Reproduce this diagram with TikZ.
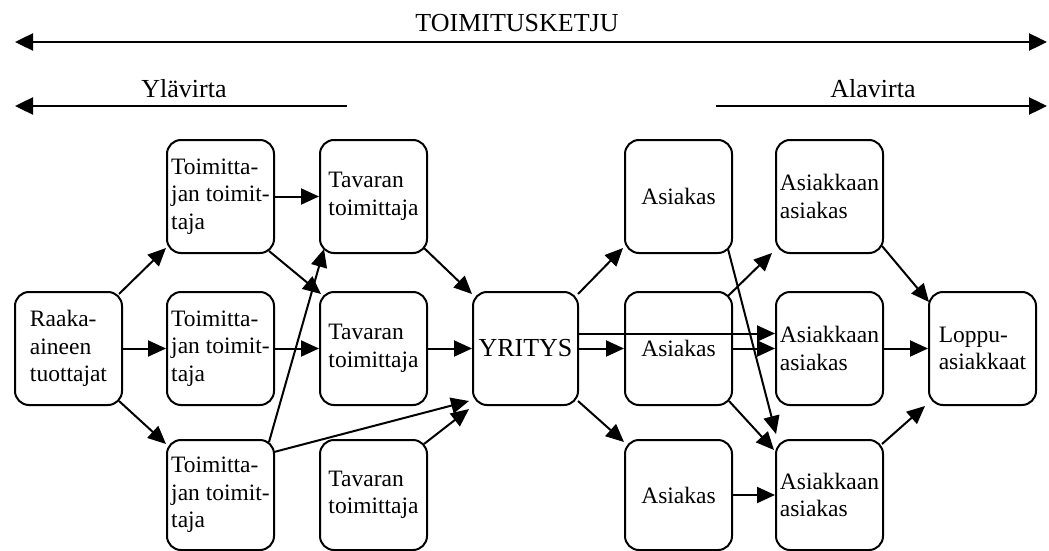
\documentclass[tikz,border=0pt]{standalone}
\usepackage{fontspec}
\setmainfont{Liberation Serif}
\usetikzlibrary{arrows.meta,calc}
\begin{document}
\begin{tikzpicture}[x=1pt,y=-1pt,
  box/.style={draw, line width=2pt, rounded corners=14pt, minimum width=107pt, minimum height=113pt, inner sep=0pt, align=left, font=\fontsize{23.5}{27.5}\selectfont},
  lowbox/.style={box, minimum height=110pt},
  arr/.style={line width=2pt, -{Triangle[length=18pt,width=16pt]}},
  spanarr/.style={line width=2.4pt, -{Triangle[length=18pt,width=17pt]}},
  lbl/.style={font=\fontsize{26}{30}\selectfont, inner sep=0pt, anchor=base}
]
\useasboundingbox (0,0) rectangle (1049,551);

% top labels and spans
\node[lbl] (title) at (517,32) {TOIMITUSKETJU};
\node[lbl] (up) at (184,97) {Ylävirta};
\node[lbl] (down) at (873,97) {Alavirta};
\coordinate (k1) at (15,42);
\coordinate (k2) at (1047,42);
\coordinate (k0) at (531,42);
\coordinate (u1) at (15,106);
\coordinate (u2) at (347,106);
\coordinate (d1) at (716,106);
\coordinate (d2) at (1047,106);
\draw[spanarr] (k0) -- (k1);
\draw[spanarr] (k0) -- (k2);
\draw[spanarr] (u2) -- (u1);
\draw[spanarr] (d1) -- (d2);

% boxes
\node[box] (A) at (68.5,348.5) {Raaka-\\aineen\\tuottajat};
\node[box] (B1) at (220.5,196.5) {Toimitta-\\jan toimit-\\taja};
\node[box] (B2) at (220.5,348.5) {Toimitta-\\jan toimit-\\taja};
\node[lowbox] (B3) at (220.5,495) {Toimitta-\\jan toimit-\\taja};
\node[box] (C1) at (373.5,196.5) {Tavaran\\toimittaja};
\node[box] (C2) at (373.5,348.5) {Tavaran\\toimittaja};
\node[lowbox] (C3) at (373.5,495) {Tavaran\\toimittaja};
\node[box, minimum width=105pt, font=\fontsize{26}{30}\selectfont] (D) at (525.5,348.5) {YRITYS};
\node[box] (E1) at (678.5,196.5) {Asiakas};
\node[box] (E2) at (678.5,348.5) {Asiakas};
\node[lowbox] (E3) at (678.5,495) {Asiakas};
\node[box] (F1) at (829.5,196.5) {Asiakkaan\\asiakas};
\node[box] (F2) at (829.5,348.5) {Asiakkaan\\asiakas};
\node[lowbox] (F3) at (829.5,495) {Asiakkaan\\asiakas};
\node[box] (G) at (982.5,348.5) {Loppu-\\asiakkaat};

% connectors, left half
\draw[arr] ($(A.north east)+(-4,3)$) -- ($(B1.south west)+(0,-6)$);
\draw[arr] (A.east) -- (B2.west);
\draw[arr] ($(A.south east)+(-4,-5)$) -- ($(B3.north west)+(0,5)$);
\draw[arr] (B1.east) -- (C1.west);
\draw[arr] ($(B1.south east)+(-6,-3)$) -- ($(C2.north west)+(2,3)$);
\draw[arr] (B2.east) -- (C2.west);
\draw[arr] ($(B3.north east)+(-6,3)$) -- ($(C1.south west)+(5,-5)$);
\draw[arr] ($(B3.north east)+(-1,13)$) -- ($(D.south west)+(-3,-5)$);
\draw[arr] ($(C1.south east)+(-4,-6)$) -- ($(D.north west)+(0,3)$);
\draw[arr] (C2.east) -- (D.west);
\draw[arr] ($(C3.north east)+(-4,5)$) -- ($(D.south west)+(-3,3)$);

% connectors, right half
\draw[arr] ($(D.north east)+(-1,3)$) -- ($(E1.south west)+(-1,-6)$);
\draw[arr] (D.east) -- (E2.west);
\draw[arr] ($(D.south east)+(-1,-5)$) -- ($(E3.north west)+(0,3)$);
\draw[arr] ($(D.east)+(0,-15)$) -- ($(F2.west)+(0,-15)$);
\draw[arr] (E2.east) -- (F2.west);
\draw[arr] ($(E2.north east)+(-5,5)$) -- ($(F1.south west)+(-3,-1)$);
\draw[arr] ($(E2.south east)+(-4,-5)$) -- ($(F3.north west)+(-1,11)$);
\draw[arr] ($(E1.south east)+(-5,-5)$) -- ($(F3.north west)+(1,-5)$);
\draw[arr] (E3.east) -- (F3.west);
\draw[arr] ($(F1.south east)+(-2,-8)$) -- ($(G.north west)+(1,11)$);
\draw[arr] (F2.east) -- (G.west);
\draw[arr] ($(F3.north east)+(-2,5)$) -- ($(G.south west)+(-3,0)$);
\end{tikzpicture}
\end{document}
